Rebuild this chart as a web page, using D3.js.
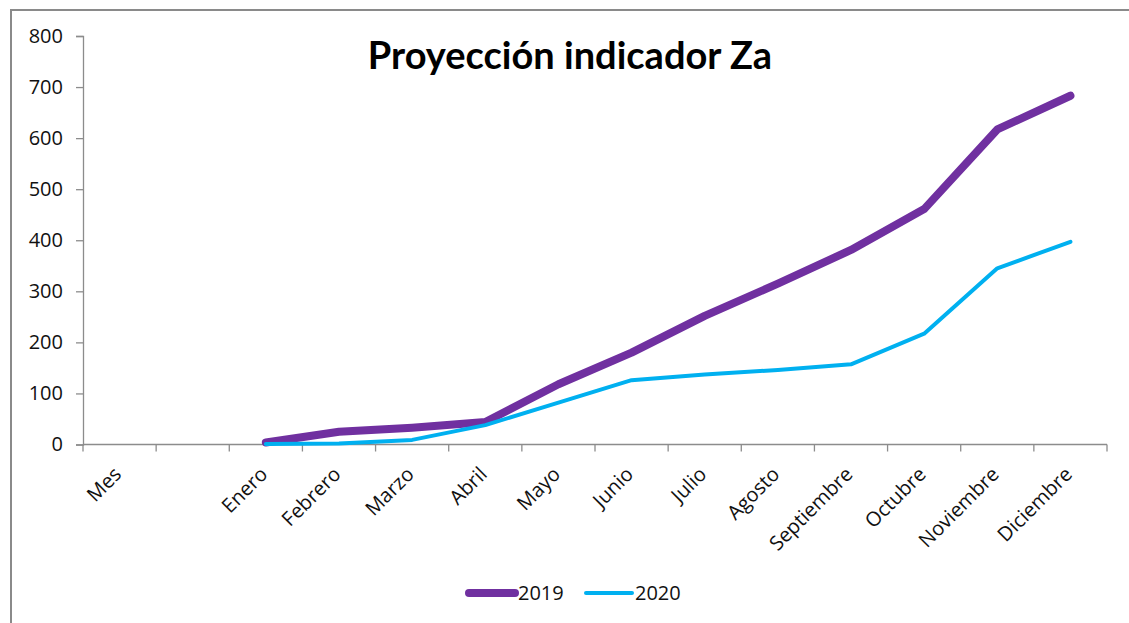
<!DOCTYPE html>
<html>
<head>
<meta charset="utf-8">
<script src="https://cdn.jsdelivr.net/npm/d3@7"></script>
<style>
  body { margin: 0; background: #fff; }
  svg { display: block; font-family: "Open Sans", "Noto Sans", sans-serif; }
</style>
</head>
<body>
<svg id="chart" width="1129" height="623"></svg>
<script>
// categories on the x axis (the second one is left empty in the original)
var months = ["Mes", "", "Enero", "Febrero", "Marzo", "Abril", "Mayo", "Junio",
  "Julio", "Agosto", "Septiembre", "Octubre", "Noviembre", "Diciembre"];
var yTicks = [0, 100, 200, 300, 400, 500, 600, 700, 800];

// values, Enero..Diciembre
var serie2019 = [4, 25, 33, 44, 118, 180, 252, 315, 381, 461, 617, 683];
var serie2020 = [1, 2, 9, 38, 82, 126, 137, 146, 157, 217, 345, 397];

var series = [
  { name: "2019", values: serie2019, color: "#7030A0", width: 8 },
  { name: "2020", values: serie2020, color: "#00B0F0", width: 4 }
];

var svg = d3.select("#chart");

// outer chart border, runs off the right and bottom like the screenshot
svg.append("rect")
  .attr("x", 11).attr("y", 10)
  .attr("width", 1300).attr("height", 800)
  .attr("fill", "none")
  .attr("stroke", "#8a8a8a")
  .attr("stroke-width", 2);

var x = d3.scaleBand().domain(months).range([83, 1107]).padding(0);
var y = d3.scaleLinear().domain([0, 800]).range([444.5, 36]);
var axisColor = "#8c8c8c";

// y axis
var gy = svg.append("g").attr("transform", "translate(83,0)")
  .call(d3.axisLeft(y).tickValues(yTicks).tickSize(7).tickPadding(13));
gy.select(".domain").attr("stroke", axisColor).attr("stroke-width", 1.3);
gy.selectAll(".tick line").attr("stroke", axisColor).attr("stroke-width", 1.3);
gy.selectAll(".tick text").attr("font-size", 20).attr("fill", "#111")
  .attr("font-family", "'Open Sans', sans-serif");

// x axis: ticks sit between categories, as in Excel
var gx = svg.append("g").attr("transform", "translate(0," + y(0) + ")");
gx.append("line")
  .attr("x1", x.range()[0]).attr("x2", x.range()[1])
  .attr("stroke", axisColor).attr("stroke-width", 1.3);
var bounds = months.map(function(m) { return x(m); }).concat([x.range()[1]]);
gx.selectAll("line.tk").data(bounds).enter().append("line")
  .attr("class", "tk")
  .attr("x1", function(d) { return d; }).attr("x2", function(d) { return d; })
  .attr("y1", 0).attr("y2", 7)
  .attr("stroke", axisColor).attr("stroke-width", 1.3);
gx.selectAll("text").data(months).enter().append("text")
  .attr("transform", function(d) {
    return "translate(" + (x(d) + x.bandwidth() / 2 + 3) + ",31) rotate(-45)";
  })
  .attr("text-anchor", "end")
  .attr("font-size", 20)
  .attr("fill", "#111")
  .text(function(d) { return d; });

// lines, starting at Enero
var line = d3.line()
  .x(function(d, i) { return x(months[i + 2]) + x.bandwidth() / 2; })
  .y(function(d) { return y(d); });

svg.selectAll("path.serie").data(series).enter().append("path")
  .attr("class", "serie")
  .attr("d", function(s) { return line(s.values); })
  .attr("fill", "none")
  .attr("stroke", function(s) { return s.color; })
  .attr("stroke-width", function(s) { return s.width; })
  .attr("stroke-linejoin", "round")
  .attr("stroke-linecap", "round");

// title
svg.append("text")
  .attr("x", 570).attr("y", 69)
  .attr("text-anchor", "middle")
  .attr("font-family", "Lato, sans-serif")
  .attr("font-size", 38)
  .attr("font-weight", "bold")
  .attr("fill", "#000")
  .text("Proyección indicador Za");

// legend
var legend = svg.append("g").attr("transform", "translate(467,593)");
var lx = [0, 117];
series.forEach(function(s, i) {
  legend.append("line")
    .attr("x1", lx[i] + 2).attr("x2", lx[i] + 48)
    .attr("stroke", s.color)
    .attr("stroke-width", s.width)
    .attr("stroke-linecap", "round");
  legend.append("text")
    .attr("x", lx[i] + 51).attr("y", 0)
    .attr("dy", "0.36em")
    .attr("font-size", 20)
    .attr("fill", "#111")
    .text(s.name);
});
</script>
</body>
</html>
